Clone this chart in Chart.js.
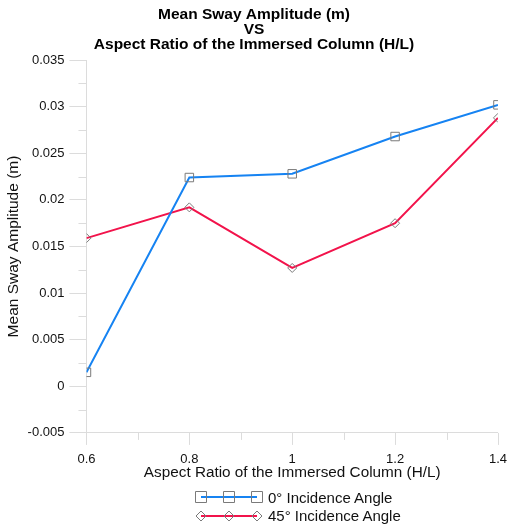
<!DOCTYPE html>
<html>
<head>
<meta charset="utf-8">
<script src="https://cdn.jsdelivr.net/npm/chart.js@4"></script>
<style>
  body { margin: 0; background: #fff; font-family: "Liberation Sans", Arial, sans-serif; }
  #wrap { position: relative; width: 508px; height: 524px; }
  #legend { position: absolute; left: 195px; top: 488px; }
  .row { display: flex; align-items: center; height: 18.5px; font-size: 15px; color: #111; }
  .row canvas { margin-right: 5px; }
</style>
</head>
<body>
<div id="wrap">
  <canvas id="myChart" width="508" height="486"></canvas>
  <div id="legend"></div>
</div>
<script>
// data
var ratios = [0.6, 0.8, 1.0, 1.2, 1.4];
var sway0 = [0.0015, 0.0224, 0.0228, 0.0268, 0.0302];
var sway45 = [0.0159, 0.0192, 0.0127, 0.0175, 0.0288];
var seriesNames = ["0° Incidence Angle", "45° Incidence Angle"];
var yTicks = [-0.005, 0, 0.005, 0.01, 0.015, 0.02, 0.025, 0.03, 0.035];
var xTicks = [0.6, 0.8, 1, 1.2, 1.4];

var blue = "#1683f2";
var red = "#f2134b";
var markGrey = "#7a7a7a";
var axisGrey = "#dcdcdc";

function pts(ys) {
  return ratios.map(function (x, i) { return { x: x, y: ys[i] }; });
}

// x tick marks (short) and minor ticks on both axes
var axisTicks = {
  id: "axisTicks",
  afterDraw: function (chart) {
    var ctx = chart.ctx, xs = chart.scales.x, ys = chart.scales.y;
    ctx.save();
    ctx.strokeStyle = axisGrey;
    ctx.lineWidth = 1;
    ctx.beginPath();
    for (var i = 0; i < yTicks.length - 1; i++) {
      var py = Math.round(ys.getPixelForValue((yTicks[i] + yTicks[i + 1]) / 2)) + 0.5;
      ctx.moveTo(xs.left - 8, py);
      ctx.lineTo(xs.left, py);
    }
    for (var j = 0; j < xTicks.length; j++) {
      var px = Math.round(xs.getPixelForValue(xTicks[j])) + 0.5;
      ctx.moveTo(px, ys.bottom);
      ctx.lineTo(px, ys.bottom + 12);
      if (j < xTicks.length - 1) {
        var pm = Math.round(xs.getPixelForValue((xTicks[j] + xTicks[j + 1]) / 2)) + 0.5;
        ctx.moveTo(pm, ys.bottom);
        ctx.lineTo(pm, ys.bottom + 7);
      }
    }
    ctx.stroke();
    ctx.restore();
  }
};

new Chart("myChart", {
  type: "line",
  data: {
    datasets: [{
      label: seriesNames[0],
      data: pts(sway0),
      borderColor: blue,
      borderWidth: 2,
      pointStyle: "rect",
      pointRadius: 6,
      pointBorderColor: markGrey,
      pointBackgroundColor: "rgba(255,255,255,0)",
      pointBorderWidth: 1,
      tension: 0
    }, {
      label: seriesNames[1],
      data: pts(sway45),
      borderColor: red,
      borderWidth: 2,
      pointStyle: "rectRot",
      pointRadius: 4.5,
      pointBorderColor: markGrey,
      pointBackgroundColor: "rgba(255,255,255,0)",
      pointBorderWidth: 1,
      tension: 0
    }]
  },
  options: {
    responsive: false,
    animation: false,
    layout: { padding: { left: 0, right: 0, top: 0, bottom: 0 } },
    plugins: {
      legend: { display: false },
      tooltip: { enabled: false },
      title: {
        display: true,
        text: ["Mean Sway Amplitude (m)", "VS", "Aspect Ratio of the Immersed Column (H/L)"],
        color: "#000",
        font: { family: "Liberation Sans", size: 15.5, weight: "bold", lineHeight: 0.97 },
        padding: { top: 7, bottom: 8 }
      }
    },
    scales: {
      x: {
        type: "linear",
        min: 0.6,
        max: 1.4,
        afterBuildTicks: function (s) { s.ticks = xTicks.map(function (v) { return { value: v }; }); },
        ticks: {
          color: "#111",
          font: { family: "Liberation Sans", size: 13, lineHeight: 1 },
          padding: 1,
          callback: function (v) { return String(Math.round(v * 10) / 10); }
        },
        grid: { drawOnChartArea: false, color: axisGrey, tickColor: "rgba(0,0,0,0)", tickLength: 19.5 },
        border: { color: axisGrey },
        title: {
          display: true,
          text: "Aspect Ratio of the Immersed Column (H/L)",
          color: "#111",
          font: { family: "Liberation Sans", size: 15.3, lineHeight: 1 },
          padding: { top: -2, bottom: 5.3 }
        }
      },
      y: {
        min: -0.005,
        max: 0.035,
        afterBuildTicks: function (s) { s.ticks = yTicks.map(function (v) { return { value: v }; }); },
        ticks: {
          color: "#111",
          font: { family: "Liberation Sans", size: 13 },
          padding: 5,
          callback: function (v) { return String(Math.round(v * 1000) / 1000); }
        },
        grid: { drawOnChartArea: false, color: axisGrey, tickLength: 17 },
        border: { color: axisGrey },
        title: {
          display: true,
          text: "Mean Sway Amplitude (m)",
          color: "#111",
          font: { family: "Liberation Sans", size: 15.5 },
          padding: { top: 4, bottom: 0 }
        }
      }
    }
  },
  plugins: [axisTicks]
});

// legend with line + three markers, like the original
function sample(color, shape) {
  var c = document.createElement("canvas");
  c.width = 68; c.height = 16;
  var g = c.getContext("2d");
  g.strokeStyle = color; g.lineWidth = 2;
  g.beginPath(); g.moveTo(6, 8); g.lineTo(62, 8); g.stroke();
  g.strokeStyle = markGrey; g.lineWidth = 1;
  [6, 34, 62].forEach(function (cx) {
    g.beginPath();
    if (shape === "rect") {
      g.rect(cx - 5.5, 2.5, 11, 11);
    } else {
      g.moveTo(cx, 3); g.lineTo(cx + 5, 8); g.lineTo(cx, 13); g.lineTo(cx - 5, 8); g.closePath();
    }
    g.stroke();
  });
  return c;
}
var legend = document.getElementById("legend");
[[blue, "rect"], [red, "diamond"]].forEach(function (s, i) {
  var row = document.createElement("div");
  row.className = "row";
  row.appendChild(sample(s[0], s[1]));
  var t = document.createElement("span");
  t.textContent = seriesNames[i];
  row.appendChild(t);
  legend.appendChild(row);
});
</script>
</body>
</html>
